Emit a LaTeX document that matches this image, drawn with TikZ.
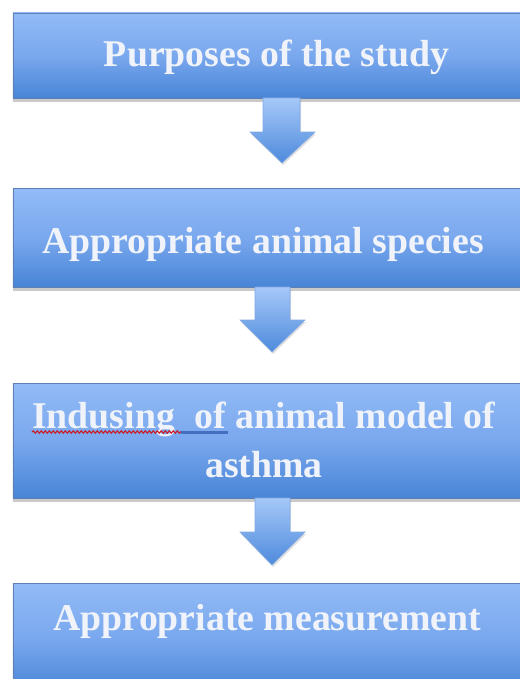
\documentclass[tikz,border=0pt]{standalone}
\usepackage{fontspec}
\setmainfont{Liberation Serif}
\usetikzlibrary{shadows,decorations.pathmorphing,calc}
\definecolor{boxtop}{RGB}{146,187,246}
\definecolor{boxmid}{RGB}{122,168,238}
\definecolor{boxbot}{RGB}{72,132,214}
\definecolor{boxline}{RGB}{95,128,178}
\definecolor{arrtop}{RGB}{165,200,248}
\definecolor{arrbot}{RGB}{78,138,220}
\definecolor{arrline}{RGB}{130,170,230}
\definecolor{txt}{RGB}{240,244,250}
\definecolor{spellred}{RGB}{200,30,40}
\definecolor{gramblue}{RGB}{70,110,190}
\tikzset{
  stepbox/.style={draw=boxline, line width=0.9bp, top color=boxtop, bottom color=boxbot,
    middle color=boxmid, inner sep=0pt,
    drop shadow={opacity=0.35, shadow xshift=0bp, shadow yshift=-4bp, fill=black!60}},
  lbl/.style={text=txt, font=\fontsize{37.9}{40}\selectfont\bfseries, inner sep=0pt},
  blockarrow/.style={draw=arrline, line width=0.6bp, top color=arrtop, bottom color=arrbot,
    drop shadow={opacity=0.25, shadow xshift=1bp, shadow yshift=-2bp, fill=black!50}}
}
\begin{document}
\begin{tikzpicture}[x=1bp,y=-1bp]
\useasboundingbox (0,0) rectangle (520,679);
\clip (0,0) rectangle (520,679);
\fill[white] (0,0) rectangle (520,679);

% boxes
\node[stepbox, minimum width=522bp, minimum height=85bp] (b1) at (274,55.5) {};
\node[stepbox, minimum width=522bp, minimum height=99bp] (b2) at (274,237.5) {};
\node[stepbox, minimum width=522bp, minimum height=115bp] (b3) at (274,440.5) {};
\node[stepbox, minimum width=522bp, minimum height=110bp] (b4) at (274,638) {};

% arrows
\path[blockarrow] (263,98) -- (300,98) -- (300,132) -- (315,132) -- (282,163) -- (250,132) -- (263,132) -- cycle;
\path[blockarrow] (255,287) -- (290,287) -- (290,320) -- (305,320) -- (272,352) -- (240,320) -- (255,320) -- cycle;
\path[blockarrow] (255,498) -- (290,498) -- (290,532) -- (305,532) -- (272,565) -- (240,532) -- (255,532) -- cycle;

% texts
\node[lbl, anchor=base] (t1) at (276.5,67) {Purposes of the study};
\node[lbl, anchor=base] (t2) at (263,253) {Appropriate animal species};
\node[lbl, anchor=base west] (w1) at (32,428) {Indusing};
\node[lbl, anchor=base west] (w2) at (w1.base east) {\ \ of animal model of};
\node[lbl, anchor=base] (t3b) at (264,477) {asthma};
\node[lbl, anchor=base] (t4) at (267.5,630) {Appropriate measurement};

% spelling / grammar marks
\draw[spellred, line width=1.1bp, decorate, decoration={snake, amplitude=1.2bp, segment length=4bp}]
  ($(w1.base west)+(0,4)$) -- ($(w1.base east)+(6,4)$);
\draw[gramblue, line width=2.2bp] ($(w1.base east)+(6,4.5)$) -- ($(w1.base east)+(53,4.5)$);
\end{tikzpicture}
\end{document}
